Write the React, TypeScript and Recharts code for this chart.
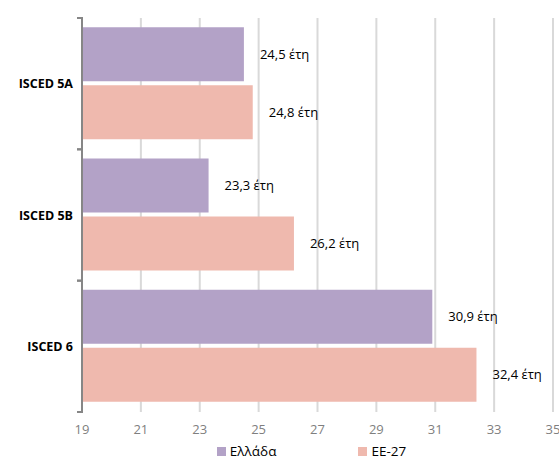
import React from 'react';
import { BarChart, Bar, XAxis, YAxis, CartesianGrid, LabelList, Legend } from 'recharts';

const categories = ['ISCED 5A', 'ISCED 5B', 'ISCED 6'];
const greece = [24.5, 23.3, 30.9];
const eu27 = [24.8, 26.2, 32.4];
const xTicks = [19, 21, 23, 25, 27, 29, 31, 33, 35];
const seriesNames = ['Ελλάδα', 'ΕΕ-27'];
const colors = ['#b3a2c7', '#efb9ae'];

const data = categories.map((c, i) => ({ name: c, gr: greece[i], eu: eu27[i] }));

const FONT = '"Open Sans", "Noto Sans", sans-serif';

const fmt = (v: any) => `${String(v).replace('.', ',')} έτη`;

const YTick = (props: any) => {
  const { x, y, payload } = props;
  const half = payload && payload.offset ? payload.offset : 65;
  return (
    <g>
      <line x1={x + 3} x2={x + 9} y1={y - half} y2={y - half} stroke="#868686" strokeWidth={2} />
      <line x1={x + 3} x2={x + 9} y1={y + half} y2={y + half} stroke="#868686" strokeWidth={2} />
      <text x={x - 1} y={y} textAnchor="end" dominantBaseline="central" fontWeight="bold" fontSize={12.5} fill="#000" fontFamily={FONT}>
        {payload.value}
      </text>
    </g>
  );
};

const LegendContent = () => (
  <div style={{ display: 'flex', justifyContent: 'center', gap: 82, fontFamily: FONT, fontSize: 13.5, lineHeight: '16px', color: '#000', paddingLeft: 70, marginTop: 1 }}>
    {seriesNames.map((n, i) => (
      <div key={n} style={{ display: 'flex', alignItems: 'center' }}>
        <span style={{ display: 'inline-block', width: 9, height: 9, background: colors[i], marginRight: 4 }} />
        <span>{n}</span>
      </div>
    ))}
  </div>
);

export default function App() {
  return (
    <div style={{ position: 'absolute', left: 0, top: 0, background: '#fff' }}>
      <BarChart
        width={559}
        height={460}
        data={data}
        layout="vertical"
        margin={{ top: 18, right: 6, bottom: 0, left: 0 }}
        barCategoryGap="7%"
        barGap={4}
      >
        <CartesianGrid horizontal={false} vertical stroke="#d9d9d9" strokeWidth={2} />
        <XAxis
          type="number"
          domain={[19, 35]}
          ticks={xTicks}
          axisLine={false}
          tickLine={false}
          tickMargin={7}
          height={30}
          tick={{ fill: '#7f7f7f', fontSize: 13, fontFamily: FONT }}
          interval={0}
        />
        <YAxis
          type="category"
          dataKey="name"
          width={82}
          axisLine={{ stroke: '#868686', strokeWidth: 2 }}
          tickLine={false}
          tick={<YTick />}
        />
        <Legend content={<LegendContent />} verticalAlign="bottom" height={18} />
        <Bar dataKey="gr" name={seriesNames[0]} fill={colors[0]} isAnimationActive={false}>
          <LabelList dataKey="gr" position="right" offset={16} formatter={fmt} fill="#000" fontSize={13} fontFamily={FONT} />
        </Bar>
        <Bar dataKey="eu" name={seriesNames[1]} fill={colors[1]} isAnimationActive={false}>
          <LabelList dataKey="eu" position="right" offset={16} formatter={fmt} fill="#000" fontSize={13} fontFamily={FONT} />
        </Bar>
      </BarChart>
    </div>
  );
}
